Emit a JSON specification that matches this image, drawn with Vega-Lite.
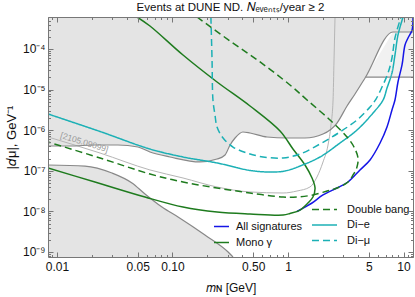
{
"$schema": "https://vega.github.io/schema/vega-lite/v6.json",
"width": 365, "height": 240,
"autosize": "none",
"padding": {"left": 48, "top": 17, "right": 2, "bottom": 40},
"background": "white",
"config": {"view": {"stroke": null}, "font": "Liberation Sans"},
"title": {"text": "Events at DUNE ND. 𝑁ₑᵥₑₙₜₛ/year ≥ 2", "fontSize": 11.5, "fontWeight": "normal", "color": "#111", "offset": 3, "anchor": "middle", "frame": "group"},
"datasets": {
"top": [{"m":0.00836,"d":4.08e-7},{"m":0.013,"d":4.08e-7},{"m":0.0213,"d":4.32e-7},{"m":0.0337,"d":4.32e-7},{"m":0.0502,"d":3.85e-7},{"m":0.0638,"d":2.9e-7},{"m":0.0951,"d":2.19e-7},{"m":0.173,"d":1.65e-7},{"m":0.243,"d":1.95e-7},{"m":0.285,"d":2.45e-7},{"m":0.315,"d":4.32e-7},{"m":0.348,"d":6.43e-7},{"m":0.407,"d":9.04e-7},{"m":0.469,"d":8.53e-7},{"m":0.658,"d":6.81e-7},{"m":0.98,"d":6.43e-7},{"m":1.403,"d":6.43e-7},{"m":2.009,"d":8.05e-7},{"m":2.655,"d":1.5e-6},{"m":3.243,"d":3.94e-6},{"m":3.802,"d":7.8e-6},{"m":4.645,"d":1.93e-5},{"m":8.11,"d":2.62e-4},{"m":12.08,"d":2.62e-4}],
"trap": [{"m":4.7,"lo":2.04e-5,"hi":2.04e-5},{"m":8.11,"lo":2.04e-5,"hi":2.62e-4},{"m":12.08,"lo":2.04e-5,"hi":2.62e-4}],
"low": [{"m":0.00836,"d":1.39e-7},{"m":0.0175,"d":1.31e-7},{"m":0.0299,"d":8.83e-8},{"m":0.0446,"d":5.01e-8},{"m":0.0578,"d":2.69e-8},{"m":0.0811,"d":1.28e-8},{"m":0.1117,"d":7.28e-9},{"m":0.191,"d":2.62e-9},{"m":0.303,"d":1.0e-9},{"m":0.334,"d":7.53e-10}],
"lit": [{"m":0.00836,"d":6.81e-7},{"m":0.0236,"d":2.74e-7},{"m":0.0638,"d":1.05e-7},{"m":0.1233,"d":6.65e-8},{"m":0.243,"d":3.99e-8},{"m":0.469,"d":3.01e-8},{"m":0.906,"d":2.84e-8},{"m":1.197,"d":3.18e-8},{"m":1.549,"d":3.99e-8},{"m":1.782,"d":7.03e-8},{"m":2.009,"d":1.65e-7},{"m":2.22,"d":4.32e-7},{"m":2.355,"d":1.34e-6},{"m":2.455,"d":5.55e-6},{"m":2.502,"d":5.36e-5},{"m":2.553,"d":6.14e-4}],
"lbl": [{"m":0.0168,"d":3.85e-7,"t":"[2105.09099]"}],
"mono": [{"m":0.0493,"d":6.14e-4},{"m":0.0638,"d":3.69e-4},{"m":0.1233,"d":7.11e-5},{"m":0.243,"d":1.54e-5},{"m":0.469,"d":3.94e-6},{"m":0.853,"d":9.55e-7},{"m":1.104,"d":3.44e-7},{"m":1.403,"d":1.39e-7},{"m":1.614,"d":6.65e-8},{"m":1.714,"d":3.77e-8},{"m":1.644,"d":2.26e-8},{"m":1.489,"d":1.61e-8},{"m":1.271,"d":1.08e-8},{"m":1.04,"d":8.87e-9},{"m":0.906,"d":8.15e-9},{"m":0.469,"d":8.63e-9},{"m":0.243,"d":9.66e-9},{"m":0.1233,"d":1.28e-8},{"m":0.0578,"d":2.26e-8},{"m":0.0213,"d":5.3e-8},{"m":0.00836,"d":1.17e-7}],
"all": [{"m":1.197,"d":9.93e-9},{"m":1.403,"d":1.28e-8},{"m":1.614,"d":1.61e-8},{"m":2.009,"d":2.54e-8},{"m":2.655,"d":3.77e-8},{"m":3.304,"d":5.3e-8},{"m":4.198,"d":1.05e-7},{"m":5.129,"d":1.85e-7},{"m":6.266,"d":4.84e-7},{"m":7.194,"d":1.2e-6},{"m":7.943,"d":3.15e-6},{"m":8.433,"d":5.55e-6},{"m":8.954,"d":1.54e-5},{"m":9.705,"d":4.04e-5},{"m":10.3,"d":1.26e-4},{"m":10.94,"d":1.87e-4},{"m":11.86,"d":2.94e-4},{"m":12.08,"d":6.14e-4}],
"dbl": [{"m":0.163,"d":6.14e-4},{"m":0.315,"d":1.57e-4},{"m":0.573,"d":4.79e-5},{"m":1.04,"d":1.3e-5},{"m":1.462,"d":5.55e-6},{"m":2.312,"d":1.78e-6},{"m":3.243,"d":6.81e-7},{"m":3.727,"d":3.85e-7},{"m":4.036,"d":2.07e-7},{"m":3.954,"d":1.24e-7},{"m":3.656,"d":7.89e-8},{"m":3.304,"d":5.3e-8},{"m":2.655,"d":3.77e-8},{"m":2.178,"d":3.18e-8},{"m":1.644,"d":2.54e-8},{"m":1.197,"d":2.26e-8},{"m":0.906,"d":2.26e-8},{"m":0.469,"d":2.84e-8},{"m":0.243,"d":3.77e-8},{"m":0.1233,"d":5.3e-8},{"m":0.0638,"d":8.34e-8},{"m":0.0236,"d":2.07e-7},{"m":0.00836,"d":5.12e-7}],
"die": [{"m":0.00836,"d":2.51e-6},{"m":0.0236,"d":9.29e-7},{"m":0.0638,"d":3.44e-7},{"m":0.1233,"d":2.19e-7},{"m":0.243,"d":1.56e-7},{"m":0.469,"d":1.02e-7},{"m":0.698,"d":9.33e-8},{"m":0.942,"d":9.89e-8},{"m":1.271,"d":1.31e-7},{"m":1.892,"d":2.19e-7},{"m":2.818,"d":4.84e-7},{"m":3.954,"d":1.01e-6},{"m":5.445,"d":2.65e-6},{"m":6.653,"d":5.55e-6},{"m":7.194,"d":1.09e-5},{"m":7.943,"d":2.56e-5},{"m":8.433,"d":7.11e-5},{"m":8.954,"d":2.21e-4},{"m":9.908,"d":6.14e-4}],
"dimu": [{"m":0.215,"d":6.14e-4},{"m":0.22,"d":5.36e-5},{"m":0.224,"d":5.55e-6},{"m":0.2333,"d":2.37e-6},{"m":0.243,"d":1.2e-6},{"m":0.274,"d":6.43e-7},{"m":0.334,"d":3.85e-7},{"m":0.442,"d":2.74e-7},{"m":0.608,"d":2.19e-7},{"m":0.906,"d":2.07e-7},{"m":1.271,"d":2.59e-7},{"m":1.892,"d":4.57e-7},{"m":2.818,"d":9.04e-7},{"m":3.954,"d":1.78e-6},{"m":5.129,"d":3.72e-6},{"m":5.781,"d":5.86e-6},{"m":6.516,"d":1.16e-5},{"m":7.345,"d":2.56e-5},{"m":7.943,"d":6.0e-5},{"m":8.433,"d":1.87e-4},{"m":9.506,"d":6.14e-4}]
},
"encoding": {
"x": {"field": "m", "type": "quantitative", "scale": {"type": "log", "domain": [0.00836, 12.08], "nice": false}, "axis": null},
"y": {"field": "d", "type": "quantitative", "scale": {"type": "log", "domain": [7.53e-10, 6.14e-4], "nice": false}, "axis": null}
},
"layer": [
{"data": {"name": "top"}, "mark": {"type": "area", "color": "#e4e4e4", "clip": true, "interpolate": "monotone"},
 "encoding": {
  "x": {"field": "m", "type": "quantitative", "scale": {"type": "log", "domain": [0.00836, 12.08], "nice": false},
   "axis": {"orient": "bottom", "values": [0.01,0.05,0.1,0.5,1,5,10], "ticks": false, "domain": true, "domainColor": "#777", "grid": false, "zindex": 1,
    "labelExpr": "datum.value < 0.02 ? '0.01' : datum.value < 0.07 ? '0.05' : datum.value < 0.2 ? '0.10' : datum.value < 0.7 ? '0.50' : datum.value < 2 ? '1' : datum.value < 7 ? '5' : '10'",
    "labelFontSize": 12, "labelColor": "#111", "labelPadding": 4, "labelFlush": false, "labelOverlap": false,
    "title": "𝑚ɴ [GeV]", "titleFontSize": 12, "titleFontWeight": "normal", "titleColor": "#111", "titlePadding": 10}},
  "y": {"field": "d", "type": "quantitative", "scale": {"type": "log", "domain": [7.53e-10, 6.14e-4], "nice": false},
   "axis": {"orient": "left", "values": [1e-9,1e-8,1e-7,1e-6,1e-5,1e-4], "ticks": false, "domain": true, "domainColor": "#777", "grid": false, "zindex": 1,
    "labelExpr": "datum.value < 3e-9 ? '10⁻⁹' : datum.value < 3e-8 ? '10⁻⁸' : datum.value < 3e-7 ? '10⁻⁷' : datum.value < 3e-6 ? '10⁻⁶' : datum.value < 3e-5 ? '10⁻⁵' : '10⁻⁴'",
    "labelFontSize": 12, "labelColor": "#111", "labelPadding": 3, "labelFlush": false, "labelOverlap": false,
    "title": "|𝑑μ|, GeV⁻¹", "titleFontSize": 13, "titleFontWeight": "normal", "titleColor": "#111", "titlePadding": 4}},
  "y2": {"datum": 0.001}
 }},
{"data": {"name": "low"}, "mark": {"type": "area", "color": "#e4e4e4", "clip": true, "interpolate": "monotone"},
 "encoding": {
  "x": {"field": "m", "type": "quantitative", "scale": {"type": "log", "domain": [0.00836, 12.08], "nice": false},
   "axis": {"orient": "bottom", "values": [0.01,0.05,0.1,0.5,1,5,10], "labels": false, "domain": false, "tickSize": -5, "tickColor": "#777", "grid": false, "title": null, "zindex": 1}},
  "y": {"field": "d", "type": "quantitative", "scale": {"type": "log", "domain": [7.53e-10, 6.14e-4], "nice": false},
   "axis": {"orient": "left", "values": [1e-9,1e-8,1e-7,1e-6,1e-5,1e-4], "labels": false, "domain": false, "tickSize": -5, "tickColor": "#777", "grid": false, "title": null, "zindex": 1}},
  "y2": {"datum": 1e-10}
 }},
{"data": {"name": "trap"}, "mark": {"type": "area", "color": "#f1f1f1", "clip": true},
 "encoding": {
  "x": {"field": "m", "type": "quantitative", "scale": {"type": "log", "domain": [0.00836, 12.08], "nice": false},
   "axis": {"orient": "top", "values": [0.01,0.05,0.1,0.5,1,5,10], "labels": false, "domain": true, "domainColor": "#777", "tickSize": -5, "tickColor": "#777", "grid": false, "title": null, "zindex": 1}},
  "y": {"field": "lo", "type": "quantitative", "scale": {"type": "log", "domain": [7.53e-10, 6.14e-4], "nice": false},
   "axis": {"orient": "right", "values": [1e-9,1e-8,1e-7,1e-6,1e-5,1e-4], "labels": false, "domain": true, "domainColor": "#777", "tickSize": -5, "tickColor": "#777", "grid": false, "title": null, "zindex": 1}},
  "y2": {"field": "hi"}
 }},
{"data": {"name": "trap"}, "mark": {"type": "line", "color": "#888", "strokeWidth": 1.2, "clip": true},
 "encoding": {
  "x": {"field": "m", "type": "quantitative", "scale": {"type": "log", "domain": [0.00836, 12.08], "nice": false},
   "axis": {"orient": "bottom", "values": [0.009,0.02,0.03,0.04,0.06,0.07,0.08,0.09,0.2,0.3,0.4,0.6,0.7,0.8,0.9,2,3,4,6,7,8,9,11,12], "labels": false, "domain": false, "tickSize": -2.5, "tickColor": "#777", "grid": false, "title": null, "zindex": 1}},
  "y": {"field": "lo", "type": "quantitative", "scale": {"type": "log", "domain": [7.53e-10, 6.14e-4], "nice": false},
   "axis": {"orient": "left", "values": [8e-10,9e-10,2e-9,3e-9,4e-9,5e-9,6e-9,7e-9,8e-9,9e-9,2e-8,3e-8,4e-8,5e-8,6e-8,7e-8,8e-8,9e-8,2e-7,3e-7,4e-7,5e-7,6e-7,7e-7,8e-7,9e-7,2e-6,3e-6,4e-6,5e-6,6e-6,7e-6,8e-6,9e-6,2e-5,3e-5,4e-5,5e-5,6e-5,7e-5,8e-5,9e-5,2e-4,3e-4,4e-4,5e-4,6e-4], "labels": false, "domain": false, "tickSize": -2.5, "tickColor": "#777", "grid": false, "title": null, "zindex": 1}}
 }},
{"data": {"name": "lit"}, "mark": {"type": "line", "color": "#b5b5b5", "strokeWidth": 1, "clip": true, "interpolate": "monotone"},
 "encoding": {
  "x": {"field": "m", "type": "quantitative", "scale": {"type": "log", "domain": [0.00836, 12.08], "nice": false},
   "axis": {"orient": "top", "values": [0.009,0.02,0.03,0.04,0.06,0.07,0.08,0.09,0.2,0.3,0.4,0.6,0.7,0.8,0.9,2,3,4,6,7,8,9,11,12], "labels": false, "domain": false, "tickSize": -2.5, "tickColor": "#777", "grid": false, "title": null, "zindex": 1}},
  "y": {"field": "d", "type": "quantitative", "scale": {"type": "log", "domain": [7.53e-10, 6.14e-4], "nice": false},
   "axis": {"orient": "right", "values": [8e-10,9e-10,2e-9,3e-9,4e-9,5e-9,6e-9,7e-9,8e-9,9e-9,2e-8,3e-8,4e-8,5e-8,6e-8,7e-8,8e-8,9e-8,2e-7,3e-7,4e-7,5e-7,6e-7,7e-7,8e-7,9e-7,2e-6,3e-6,4e-6,5e-6,6e-6,7e-6,8e-6,9e-6,2e-5,3e-5,4e-5,5e-5,6e-5,7e-5,8e-5,9e-5,2e-4,3e-4,4e-4,5e-4,6e-4], "labels": false, "domain": false, "tickSize": -2.5, "tickColor": "#777", "grid": false, "title": null, "zindex": 1}},
  "order": {"value": null}
 }},
{"data": {"name": "top"}, "mark": {"type": "line", "color": "#888", "strokeWidth": 1.2, "clip": true, "interpolate": "monotone"}, "encoding": {}},
{"data": {"name": "low"}, "mark": {"type": "line", "color": "#888", "strokeWidth": 1.2, "clip": true, "interpolate": "monotone"}, "encoding": {}},
{"data": {"name": "lbl"}, "mark": {"type": "text", "angle": 17, "fontSize": 8.5, "color": "#999", "align": "center", "baseline": "bottom"}, "encoding": {"text": {"field": "t"}}},
{"layer": [
  {"data": {"name": "all"}, "mark": {"type": "line", "strokeWidth": 1.5, "clip": true, "interpolate": "catmull-rom"},
   "encoding": {"order": {"value": null},
    "color": {"datum": "All signatures", "type": "nominal", "scale": {"domain": ["All signatures", "Mono γ"], "range": ["#1515e6", "#1e7b1e"]},
     "legend": {"orient": "none", "legendX": 165, "legendY": 201, "title": null, "symbolType": "stroke", "symbolSize": 225, "symbolStrokeWidth": 1.5, "labelFontSize": 11, "labelColor": "#111", "labelOffset": 6, "rowPadding": 2, "padding": 0}}}},
  {"data": {"name": "mono"}, "mark": {"type": "line", "strokeWidth": 1.5, "clip": true, "interpolate": "catmull-rom"},
   "encoding": {"order": {"value": null}, "color": {"datum": "Mono γ", "type": "nominal"}}}
 ]},
{"layer": [
  {"data": {"name": "die"}, "mark": {"type": "line", "strokeWidth": 1.5, "clip": true, "interpolate": "catmull-rom"},
   "encoding": {"order": {"value": null},
    "color": {"datum": "Di−e", "type": "nominal", "scale": {"domain": ["Double bang", "Di−e", "Di−μ"], "range": ["#1e7b1e", "#1bb0b5", "#1bb0b5"]},
     "legend": {"orient": "none", "legendX": 268, "legendY": 184, "title": null, "symbolType": "M-1.667,0H1.667", "symbolSize": 225, "symbolStrokeWidth": 1.5, "labelFontSize": 11, "labelColor": "#111", "labelOffset": 14, "rowPadding": 1.5, "padding": 0}},
    "strokeDash": {"datum": "Di−e", "type": "nominal", "scale": {"domain": ["Double bang", "Di−e", "Di−μ"], "range": [[7,4],[1,0],[7,4]]},
     "legend": {"orient": "none", "legendX": 268, "legendY": 184, "title": null, "symbolType": "M-1.667,0H1.667", "symbolSize": 225, "symbolStrokeWidth": 1.5, "labelFontSize": 11, "labelColor": "#111", "labelOffset": 14, "rowPadding": 1.5, "padding": 0}}}},
  {"data": {"name": "dimu"}, "mark": {"type": "line", "strokeWidth": 1.5, "clip": true, "interpolate": "catmull-rom"},
   "encoding": {"order": {"value": null}, "color": {"datum": "Di−μ", "type": "nominal"}, "strokeDash": {"datum": "Di−μ", "type": "nominal"}}},
  {"data": {"name": "dbl"}, "mark": {"type": "line", "strokeWidth": 1.5, "clip": true, "interpolate": "catmull-rom"},
   "encoding": {"order": {"value": null}, "color": {"datum": "Double bang", "type": "nominal"}, "strokeDash": {"datum": "Double bang", "type": "nominal"}}}
 ]}
],
"resolve": {"scale": {"color": "independent", "strokeDash": "independent"}, "axis": {"x": "independent", "y": "independent"}}
}
